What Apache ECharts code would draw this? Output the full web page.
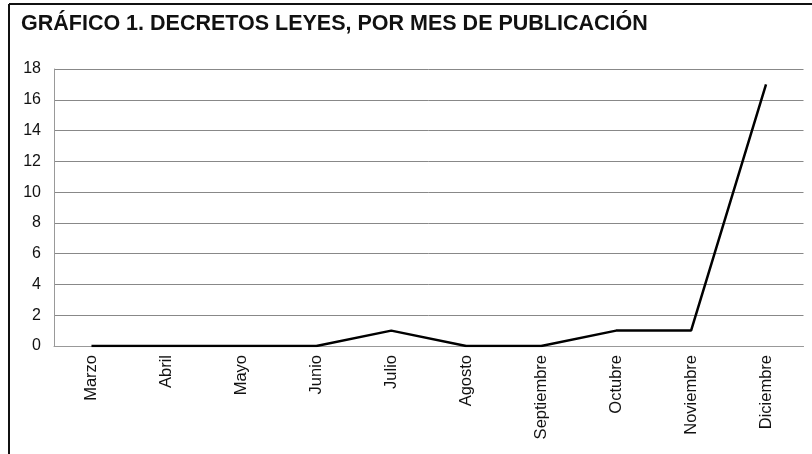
<!DOCTYPE html>
<html>
<head>
<meta charset="utf-8">
<script src="https://cdn.jsdelivr.net/npm/echarts@6/dist/echarts.min.js"></script>
<style>
html,body{margin:0;padding:0;background:#fff;}
#c{width:812px;height:454px;}
</style>
</head>
<body>
<div id="c"></div>
<script>
const categories = ["Marzo","Abril","Mayo","Junio","Julio","Agosto","Septiembre","Octubre","Noviembre","Diciembre"];
const values = [0,0,0,0,1,0,0,1,1,17];
const yTicks = [0,2,4,6,8,10,12,14,16,18];
const title = "GRÁFICO 1. DECRETOS LEYES, POR MES DE PUBLICACIÓN";

const chart = echarts.init(document.getElementById('c'));
chart.setOption({
  animation:false,
  backgroundColor:'#fff',
  title:{
    text:title, left:16, top:8,
    textStyle:{fontFamily:'Liberation Sans, Arial', fontWeight:'bold', fontSize:21.5, color:'#111'}
  },
  graphic:[
    {type:'line', shape:{x1:9,y1:4,x2:812,y2:4}, style:{stroke:'#111',lineWidth:2}},
    {type:'line', shape:{x1:9,y1:4,x2:9,y2:454}, style:{stroke:'#111',lineWidth:2}}
  ],
  grid:{left:54, right:8.5, top:69, bottom:108, containLabel:false},
  xAxis:{
    type:'category', data:categories, boundaryGap:true,
    axisLine:{show:true, lineStyle:{color:'#999', width:1}},
    axisTick:{show:false},
    axisLabel:{rotate:90, interval:0, fontFamily:'Liberation Sans, Arial', fontSize:16.5, color:'#111', margin:9}
  },
  yAxis:{
    type:'value', min:yTicks[0], max:yTicks[yTicks.length-1], interval:2,
    axisLine:{show:true, lineStyle:{color:'#999', width:1}},
    axisTick:{show:false},
    axisLabel:{fontFamily:'Liberation Sans, Arial', fontSize:16, color:'#111', margin:13},
    splitLine:{show:true, lineStyle:{color:'#888', width:1}}
  },
  series:[{
    type:'line', data:values, showSymbol:false, symbol:'none',
    lineStyle:{color:'#000', width:2.5}
  }]
});
</script>
</body>
</html>
